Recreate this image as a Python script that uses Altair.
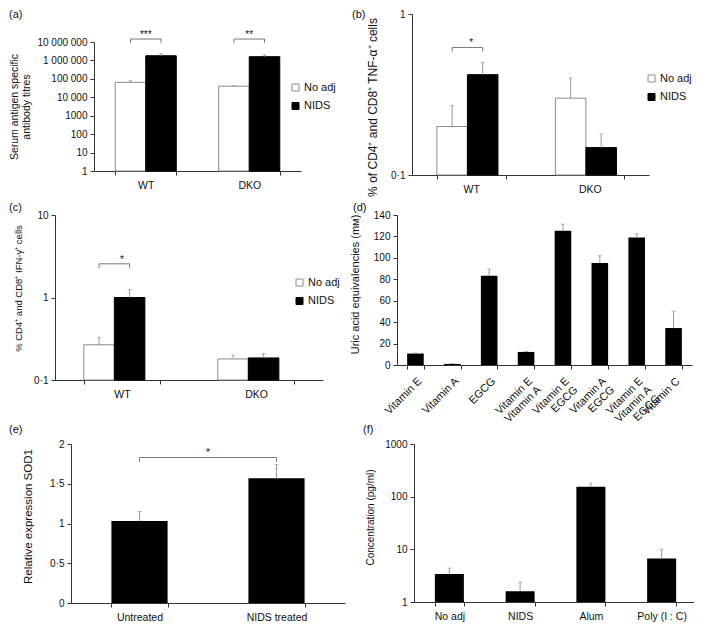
import json
import altair as alt
import pandas as pd

FONT = "Liberation Sans"
SERIES = ["No adj", "NIDS"]
FILLS = ["#ffffff", "#000000"]
STROKES = ["#8a8a8a", "#000000"]
ERR_COLOR = "#999999"
AXIS_COLOR = "#333333"
TEXT_COLOR = "#111111"
CELL_W = 342
CELL_H = 200

# ---------------- data ----------------
GROUPS = ["WT", "DKO"]

# (a) serum antigen specific antibody titres
A_NOADJ = [65000, 40000]
A_NIDS = [1800000, 1600000]
A_NOADJ_ERR = [80000, 43000]
A_NIDS_ERR = [2300000, 2000000]
A_TICKS = [1, 10, 100, 1000, 10000, 100000, 1000000, 10000000]
A_TICK_LABELS = ["1", "10", "100", "1000", "10 000", "100 000", "1 000 000", "10 000 000"]
A_SIG_GROUPS = ["WT", "DKO"]
A_SIG_TEXT = ["***", "**"]
A_SIG_TOP = [1.45e7, 1.45e7]
A_SIG_END = [9.0e6, 9.0e6]

# (b) % CD4+ and CD8+ TNF-a+ cells
B_NOADJ = [0.20, 0.30]
B_NIDS = [0.42, 0.148]
B_NOADJ_ERR = [0.27, 0.40]
B_NIDS_ERR = [0.50, 0.18]
B_TICKS = [0.1, 1]
B_TICK_LABELS = ["0·1", "1"]
B_SIG_GROUPS = ["WT"]
B_SIG_TEXT = ["*"]
B_SIG_TOP = [0.62]
B_SIG_END = [0.585]

# (c) % CD4+ and CD8+ IFN-g+ cells
C_NOADJ = [0.267, 0.18]
C_NIDS = [1.0, 0.185]
C_NOADJ_ERR = [0.33, 0.20]
C_NIDS_ERR = [1.25, 0.21]
C_TICKS = [0.1, 1, 10]
C_TICK_LABELS = ["0·1", "1", "10"]
C_SIG_GROUPS = ["WT"]
C_SIG_TEXT = ["*"]
C_SIG_TOP = [2.56]
C_SIG_END = [2.26]

# (d) uric acid equivalencies
D_CATS = ["Vitamin E", "Vitamin A", "EGCG", "Vitamin E\nVitamin A", "Vitamin E\nEGCG",
          "Vitamin A\nEGCG", "Vitamin E\nVitamin A\nEGCG", "Vitamin C"]
D_VALUES = [10.7, 1.0, 83.3, 12.2, 125.4, 95.1, 118.9, 34.5]
D_ERRORS = [11.2, 1.3, 89.4, 12.6, 131.5, 102.0, 122.5, 50.3]
D_TICKS = [0, 20, 40, 60, 80, 100, 120, 140]
D_TICK_LABELS = ["0", "20", "40", "60", "80", "100", "120", "140"]

# (e) relative expression SOD1
E_CATS = ["Untreated", "NIDS treated"]
E_VALUES = [1.03, 1.57]
E_ERRORS = [1.15, 1.74]
E_TICKS = [0, 0.5, 1, 1.5, 2]
E_TICK_LABELS = ["0", "0·5", "1", "1·5", "2"]
E_SIG_TOP = 1.83
E_SIG_END = 1.78
E_SIG_TEXT = "*"

# (f) concentration (pg/ml)
F_CATS = ["No adj", "NIDS", "Alum", "Poly (I : C)"]
F_VALUES = [3.4, 1.6, 155, 6.7]
F_ERRORS = [4.4, 2.4, 180, 10]
F_TICKS = [1, 10, 100, 1000]
F_TICK_LABELS = ["1", "10", "100", "1000"]


def label_expr(ticks, labels):
    return f"{json.dumps(labels)}[indexof({json.dumps(ticks)}, datum.value)]"


def panel_label(text, x, y):
    return alt.Chart(pd.DataFrame({"t": [text]})).mark_text(
        align="left", baseline="middle", fontSize=11, color=TEXT_COLOR
    ).encode(text="t:N", x=alt.value(x), y=alt.value(y))


def y_axis(title, ticks, tick_labels, box, title_size, title_pad,
           line_height=None, title_y=None):
    kw = {}
    if line_height is not None:
        kw["titleLineHeight"] = line_height
    if title_y is not None:
        kw["titleY"] = title_y
    return alt.Axis(title=title, values=ticks, labelExpr=label_expr(ticks, tick_labels),
                    tickCount=len(ticks) + 2,
                    titleFontSize=title_size, titlePadding=title_pad,
                    offset=-box[0], labelOverlap=False, **kw)


def grouped_panel(letter, noadj, nids, noadj_err, nids_err, ticks, tick_labels,
                  sig_groups, sig_text, sig_top, sig_end, box, title, title_size,
                  title_pad, pad_inner, legend_xy, label_xy, line_height=None,
                  title_y=None):
    x0, x1, y0, y1 = box
    rows = []
    for i, g in enumerate(GROUPS):
        rows.append({"group": g, "series": SERIES[0], "value": noadj[i], "err": noadj_err[i]})
        rows.append({"group": g, "series": SERIES[1], "value": nids[i], "err": nids_err[i]})
    df = pd.DataFrame(rows)
    ymin, ymax = ticks[0], ticks[-1]
    yscale = alt.Scale(type="log", domain=[ymin, ymax], range=[y1, y0], nice=False)
    xenc = alt.X("group:N", sort=GROUPS,
                 scale=alt.Scale(range=[x0, x1], paddingInner=pad_inner,
                                 paddingOuter=pad_inner / 2),
                 axis=alt.Axis(title=None, labelAngle=0, tickBand="extent",
                               labelFontSize=10.5, labelPadding=5,
                               offset=y1 - CELL_H))
    xoff = alt.XOffset("series:N", sort=SERIES,
                       scale=alt.Scale(paddingInner=0, paddingOuter=0))
    base = alt.Chart(df).encode(x=xenc, xOffset=xoff)
    bars = base.mark_bar(strokeWidth=1).encode(
        y=alt.Y("value:Q", scale=yscale,
                axis=y_axis(title, ticks, tick_labels, box, title_size, title_pad,
                            line_height, title_y)),
        y2=alt.datum(ymin),
        fill=alt.Fill("series:N", sort=SERIES,
                      scale=alt.Scale(domain=SERIES, range=FILLS),
                      legend=alt.Legend(title=None, orient="none",
                                        legendX=legend_xy[0], legendY=legend_xy[1],
                                        symbolType="square", symbolSize=49,
                                        symbolStrokeColor="#444", symbolStrokeWidth=1,
                                        labelFontSize=11, labelOffset=3,
                                        rowPadding=6.5)),
        stroke=alt.Stroke("series:N", sort=SERIES,
                          scale=alt.Scale(domain=SERIES, range=STROKES), legend=None),
    )
    err = base.mark_rule(color=ERR_COLOR, strokeWidth=1).encode(
        y=alt.Y("value:Q"), y2="err:Q")
    cap = base.mark_tick(color=ERR_COLOR, thickness=1, size=4, orient="horizontal").encode(
        y=alt.Y("err:Q"))

    brows = []
    for g, t, e in zip(sig_groups, sig_top, sig_end):
        brows += [
            {"group": g, "series": SERIES[0], "y": e, "o": 0},
            {"group": g, "series": SERIES[0], "y": t, "o": 1},
            {"group": g, "series": SERIES[1], "y": t, "o": 2},
            {"group": g, "series": SERIES[1], "y": e, "o": 3},
        ]
    bdf = pd.DataFrame(brows)
    bracket = alt.Chart(bdf).mark_line(color="#777777", strokeWidth=1).encode(
        x=xenc, xOffset=xoff, y=alt.Y("y:Q"), order="o:Q", detail="group:N")
    sdf = pd.DataFrame({"group": sig_groups, "y": sig_top, "t": sig_text})
    stars = alt.Chart(sdf).mark_text(baseline="middle", dy=-4, fontSize=10,
                                     color=TEXT_COLOR).encode(
        x=xenc, y=alt.Y("y:Q"), text="t:N")
    lab = panel_label(letter, label_xy[0], label_xy[1])
    return alt.layer(bars, err, cap, bracket, stars, lab).properties(
        width=CELL_W, height=CELL_H)


def single_panel(letter, cats, values, errors, ticks, tick_labels, log, box,
                 title, title_size, title_pad, pad_inner, label_xy, rotate=False,
                 sig=None, title_y=None):
    x0, x1, y0, y1 = box
    df = pd.DataFrame({"cat": cats, "value": values, "err": errors})
    ymin, ymax = ticks[0], ticks[-1]
    if log:
        yscale = alt.Scale(type="log", domain=[ymin, ymax], range=[y1, y0], nice=False)
    else:
        yscale = alt.Scale(domain=[ymin, ymax], range=[y1, y0], nice=False)
    if rotate:
        xaxis = alt.Axis(title=None, labelAngle=-45, labelAlign="right",
                         labelBaseline="top", tickBand="extent", labelFontSize=11,
                         labelPadding=6, labelLineHeight=12, labelOverlap=False,
                         labelExpr="split(datum.label, '\\n')", offset=y1 - CELL_H)
    else:
        xaxis = alt.Axis(title=None, labelAngle=0, tickBand="extent",
                         labelFontSize=10.5, labelPadding=5, offset=y1 - CELL_H)
    xenc = alt.X("cat:N", sort=cats,
                 scale=alt.Scale(range=[x0, x1], paddingInner=pad_inner,
                                 paddingOuter=pad_inner / 2),
                 axis=xaxis)
    base = alt.Chart(df).encode(x=xenc)
    bars = base.mark_bar(color="#000000").encode(
        y=alt.Y("value:Q", scale=yscale,
                axis=y_axis(title, ticks, tick_labels, box, title_size, title_pad,
                            title_y=title_y)),
        y2=alt.datum(ymin),
    )
    err = base.mark_rule(color=ERR_COLOR, strokeWidth=1).encode(
        y=alt.Y("value:Q"), y2="err:Q")
    cap = base.mark_tick(color=ERR_COLOR, thickness=1, size=4, orient="horizontal").encode(
        y=alt.Y("err:Q"))
    layers = [bars, err, cap]
    if sig is not None:
        top_v, end_v, text = sig
        bdf = pd.DataFrame({"cat": [cats[0], cats[0], cats[1], cats[1]],
                            "y": [end_v, top_v, top_v, end_v], "o": [0, 1, 2, 3]})
        layers.append(alt.Chart(bdf).mark_line(color="#777777", strokeWidth=1).encode(
            x=xenc, y=alt.Y("y:Q"), order="o:Q"))
        sdf = pd.DataFrame({"cat": [cats[0]], "y": [top_v], "t": [text]})
        step = (x1 - x0) / len(cats)
        layers.append(alt.Chart(sdf).mark_text(baseline="middle", dy=-5, dx=step / 2,
                                               fontSize=10, color=TEXT_COLOR).encode(
            x=xenc, y=alt.Y("y:Q"), text="t:N"))
    layers.append(panel_label(letter, label_xy[0], label_xy[1]))
    return alt.layer(*layers).properties(width=CELL_W, height=CELL_H)


# boxes: (x0, x1, y0, y1) of each plot area inside its cell
pa = grouped_panel("(a)", A_NOADJ, A_NIDS, A_NOADJ_ERR, A_NIDS_ERR, A_TICKS, A_TICK_LABELS,
                   A_SIG_GROUPS, A_SIG_TEXT, A_SIG_TOP, A_SIG_END,
                   box=(85, 292, 33, 162),
                   title=["Serum antigen specific", "antibody titres"], title_size=10.5,
                   title_pad=5, pad_inner=0.41, legend_xy=(281, 73), label_xy=(0, 6),
                   line_height=12.5)
pb = grouped_panel("(b)", B_NOADJ, B_NIDS, B_NOADJ_ERR, B_NIDS_ERR, B_TICKS, B_TICK_LABELS,
                   B_SIG_GROUPS, B_SIG_TEXT, B_SIG_TOP, B_SIG_END,
                   box=(61, 298, 5, 166),
                   title="% of CD4⁺ and CD8⁺ TNF-α⁺ cells", title_size=12,
                   title_pad=11, pad_inner=0.42, legend_xy=(295, 64), label_xy=(1, 6),
                   title_y=98)
pc = grouped_panel("(c)", C_NOADJ, C_NIDS, C_NOADJ_ERR, C_NIDS_ERR, C_TICKS, C_TICK_LABELS,
                   C_SIG_GROUPS, C_SIG_TEXT, C_SIG_TOP, C_SIG_END,
                   box=(46, 314, 6, 171),
                   title="% CD4⁺ and CD8⁺ IFN-γ⁺ cells", title_size=9.5,
                   title_pad=10, pad_inner=0.43, legend_xy=(285, 68), label_xy=(0, -1),
                   title_y=79)
pd_ = single_panel("(d)", D_CATS, D_VALUES, D_ERRORS, D_TICKS, D_TICK_LABELS, False,
                   box=(46, 341, 6, 156),
                   title="Uric acid equivalencies (mᴍ)", title_size=11, title_pad=13,
                   pad_inner=0.55, label_xy=(2, -1), rotate=True, title_y=75)
pe = single_panel("(e)", E_CATS, E_VALUES, E_ERRORS, E_TICKS, E_TICK_LABELS, False,
                  box=(62, 336, 35, 194),
                  title="Relative expression SOD1", title_size=11.5, title_pad=16,
                  pad_inner=0.59, label_xy=(0, 21), sig=(E_SIG_TOP, E_SIG_END, E_SIG_TEXT),
                  title_y=107)
pf = single_panel("(f)", F_CATS, F_VALUES, F_ERRORS, F_TICKS, F_TICK_LABELS, True,
                  box=(63, 346, 35, 193),
                  title="Concentration (pg/ml)", title_size=10, title_pad=9,
                  pad_inner=0.59, label_xy=(12, 21), title_y=108)

chart = alt.concat(
    pa, pb, pc, pd_, pe, pf,
    columns=2, spacing=0, bounds="flush", align="all",
).resolve_scale(
    fill="independent", stroke="independent", x="independent", y="independent"
).resolve_legend(
    fill="independent", stroke="independent"
).properties(padding=0).configure_view(
    stroke="transparent"
).configure_axis(
    domainColor=AXIS_COLOR, tickColor=AXIS_COLOR, labelColor=TEXT_COLOR,
    titleColor=TEXT_COLOR, labelFont=FONT, titleFont=FONT, labelFontSize=10,
    titleFontWeight="normal", grid=False, tickSize=4, labelPadding=3,
    domainWidth=1, tickWidth=1
).configure_legend(
    labelFont=FONT, labelColor=TEXT_COLOR
).configure_text(font=FONT)

chart.save("out.html", embed_options={"renderer": "svg", "actions": False})
